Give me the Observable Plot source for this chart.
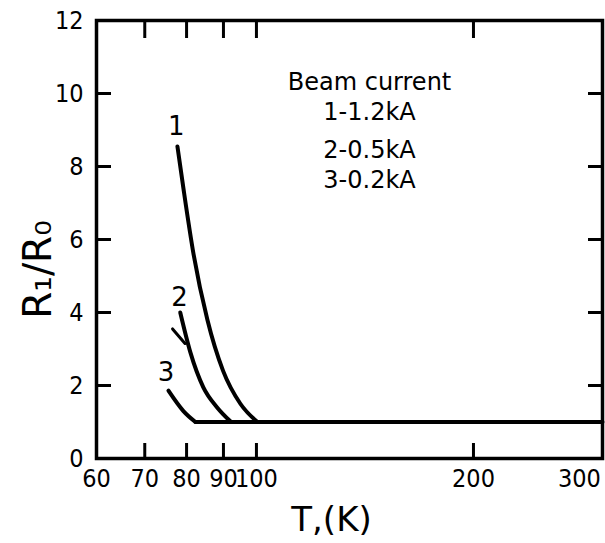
<!DOCTYPE html>
<html>
<head>
<meta charset="utf-8">
<script src="https://cdn.jsdelivr.net/npm/d3@7"></script>
<script src="https://cdn.jsdelivr.net/npm/@observablehq/plot@0.6"></script>
<style>
  html, body { margin: 0; padding: 0; background: white; }
  g[aria-label$="tick label"] text { font-stretch: condensed; }
</style>
</head>
<body>
<div id="chart"></div>
<script>
// Curve 1: beam current 1.2 kA
const curve1T = [77.7, 79.2, 81.8, 85.5, 89.9, 95.0, 100.3];
const curve1R = [8.55, 7.4, 5.6, 3.8, 2.4, 1.5, 1.0];
// Curve 2: beam current 0.5 kA
const curve2T = [78.4, 81.0, 84.4, 88.2, 92.0];
const curve2R = [4.0, 2.9, 1.95, 1.4, 1.02];
// small hook drawn next to curve 2
const hookT = [76.5, 79.6];
const hookR = [3.55, 3.15];
// Curve 3: beam current 0.2 kA
const curve3T = [75.5, 79.2, 82.3];
const curve3R = [1.86, 1.3, 1.0];
// common plateau R1/R0 = 1
const plateauT = [82.3, 302];
const plateauR = [1.0, 1.0];

const curveLabels = ["1", "2", "3"];
const curveLabelT = [77.4, 78.2, 74.9];
const curveLabelR = [9.1, 4.4, 2.35];

const legendLines = ["Beam current", "1-1.2kA", "2-0.5kA", "3-0.2kA"];

const xTickLabels = [60, 70, 80, 90, 100, 200];
const xLastLabel = [300];
const xTickMarks = [70, 80, 90, 100, 200];
const yTickLabels = [0, 2, 4, 6, 8, 10, 12];
const yTickMarks = [2, 4, 6, 8, 10];

const toPts = (T, R) => T.map((t, i) => ({T: t, R: R[i]}));

const tickFont = "'Liberation Sans Narrow', 'DejaVu Sans', sans-serif";
const textFont = "'DejaVu Sans', sans-serif";
const stroke = "#000";
const legendOffsets = [62, 92, 130, 160];

const chart = Plot.plot({
  width: 605,
  height: 543,
  marginLeft: 96,
  marginRight: 3,
  marginTop: 20,
  marginBottom: 85,
  style: {fontFamily: textFont, background: "white", color: "black"},
  x: {type: "log", domain: [60, 302]},
  y: {domain: [0, 12]},
  marks: [
    // inward ticks
    Plot.axisX(xTickMarks, {anchor: "bottom", tickSize: -15, tickFormat: () => "", strokeWidth: 3, label: null}),
    Plot.axisX(xTickMarks, {anchor: "top", tickSize: -17, tickFormat: () => "", strokeWidth: 3, label: null}),
    Plot.axisY(yTickMarks, {anchor: "left", tickSize: -15, tickFormat: () => "", strokeWidth: 3, label: null}),
    Plot.axisY(yTickMarks, {anchor: "right", tickSize: -15, tickFormat: () => "", strokeWidth: 3, label: null}),
    // tick labels
    Plot.axisX(xTickLabels, {anchor: "bottom", tickSize: 0, tickPadding: 11, tickFormat: d => String(d), fontSize: 25, fontFamily: tickFont, label: null, fill: "black"}),
    Plot.axisX(xLastLabel, {anchor: "bottom", tickSize: 0, tickPadding: 11, dx: -21, tickFormat: d => String(d), fontSize: 25, fontFamily: tickFont, label: null, fill: "black"}),
    Plot.axisY(yTickLabels, {anchor: "left", tickSize: 0, tickPadding: 13, tickFormat: d => String(d), fontSize: 25, fontFamily: tickFont, label: null, fill: "black"}),
    // curves
    Plot.line(toPts(curve1T, curve1R), {x: "T", y: "R", curve: "monotone-x", stroke, strokeWidth: 4}),
    Plot.line(toPts(curve2T, curve2R), {x: "T", y: "R", curve: "monotone-x", stroke, strokeWidth: 4}),
    Plot.line(toPts(hookT, hookR), {x: "T", y: "R", stroke, strokeWidth: 3}),
    Plot.line(toPts(curve3T, curve3R), {x: "T", y: "R", curve: "monotone-x", stroke, strokeWidth: 4}),
    Plot.line(toPts(plateauT, plateauR), {x: "T", y: "R", stroke, strokeWidth: 4}),
    // curve numbers
    Plot.text(curveLabels.map((l, i) => ({l, T: curveLabelT[i], R: curveLabelR[i]})),
      {x: "T", y: "R", text: "l", fontSize: 26, fill: "black", fontFamily: textFont}),
    // legend block
    ...legendLines.map((line, i) => Plot.text([line], {frameAnchor: "top", text: d => d, dx: 20,
      dy: legendOffsets[i], lineAnchor: "middle", fontSize: 24, fill: "black", fontFamily: textFont})),
    // axis titles
    Plot.text(["R\u2081/R\u2080"], {frameAnchor: "left", textAnchor: "middle", lineAnchor: "middle", text: d => d,
      dx: -58, dy: 30, rotate: -90, fontSize: 39, fill: "black", fontFamily: textFont}),
    Plot.text(["T,(K)"], {frameAnchor: "bottom", textAnchor: "middle", lineAnchor: "middle", text: d => d,
      dx: -18, dy: 62, fontSize: 34, fill: "black", fontFamily: textFont}),
    Plot.frame({stroke, strokeWidth: 3.5})
  ]
});

document.getElementById("chart").appendChild(chart);
</script>
</body>
</html>
